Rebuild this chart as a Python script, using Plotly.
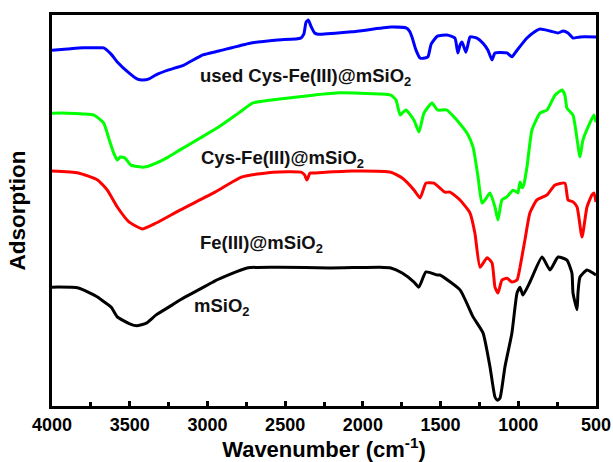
import plotly.graph_objects as go

# Wavenumber (cm-1) and absorbance (a.u., offset stacked)
wn_used = [4000, 3900, 3800, 3700, 3668, 3620, 3580, 3505, 3450, 3417, 3380, 3331, 3254, 3151, 3029, 2926,
           2726, 2550, 2400, 2380, 2365, 2350, 2335, 2310, 2288, 2070, 1819, 1722, 1700, 1684, 1658, 1632,
           1600, 1581, 1560, 1520, 1459, 1408, 1395, 1388, 1375, 1362, 1337, 1320, 1311, 1266, 1227, 1195,
           1169, 1150, 1073, 1041, 1008, 944, 906, 860, 796, 744, 712, 680, 648, 603, 500]
ab_used = [91.0, 91.3, 91.6, 91.6, 91.6, 90.0, 88.0, 85.2, 83.6, 83.4, 83.6, 84.7, 85.9, 87.2, 89.8, 90.8,
           92.8, 93.6, 94.1, 95.1, 98.2, 98.7, 97.2, 95.4, 95.1, 95.7, 96.9, 96.7, 95.9, 94.4, 91.0, 89.0,
           89.0, 89.3, 92.6, 94.6, 94.9, 94.1, 91.6, 90.3, 92.3, 93.1, 90.5, 93.1, 94.4, 94.1, 92.8, 91.0,
           88.5, 90.3, 90.3, 89.3, 91.0, 94.1, 95.4, 96.4, 95.9, 95.4, 95.9, 95.4, 94.1, 94.4, 94.4]

wn_cys = [4000, 3900, 3800, 3730, 3668, 3631, 3606, 3580, 3560, 3530, 3492, 3405, 3330, 3250, 3176, 3048,
          2926, 2800, 2707, 2578, 2321, 2147, 1890, 1820, 1787, 1760, 1740, 1722, 1671, 1639, 1607, 1555,
          1520, 1459, 1395, 1330, 1291, 1259, 1234, 1214, 1182, 1150, 1131, 1105, 1073, 1034, 1010, 1002,
          989, 975, 965, 944, 912, 860, 815, 764, 719, 700, 687, 648, 603, 584, 539, 513, 500]
ab_cys = [74.9, 74.9, 74.7, 74.4, 72.4, 68.0, 65.0, 62.9, 63.7, 63.4, 61.6, 61.1, 62.1, 63.7, 65.5, 68.5,
          71.4, 74.9, 77.5, 78.3, 79.5, 80.1, 79.8, 79.5, 78.3, 74.4, 75.2, 75.7, 73.1, 70.1, 74.9, 77.5,
          75.7, 75.7, 73.1, 69.8, 66.2, 58.6, 51.9, 52.7, 54.5, 50.9, 47.6, 52.7, 53.5, 55.2, 54.7, 54.5,
          57.3, 55.8, 56.5, 61.1, 70.6, 74.9, 75.7, 79.5, 80.8, 79.5, 76.2, 74.4, 63.7, 68.0, 72.4, 74.4, 72.6]

wn_fe = [4000, 3830, 3707, 3644, 3580, 3505, 3417, 3330, 3177, 2951, 2777, 2578, 2398, 2375, 2360, 2340,
         2324, 2070, 1820, 1747, 1670, 1632, 1594, 1543, 1472, 1439, 1375, 1311, 1279, 1246, 1201, 1169,
         1150, 1131, 1105, 1073, 1041, 1008, 989, 957, 925, 880, 815, 764, 700, 680, 648, 622, 590, 558,
         526, 513, 500]
ab_fe = [60.1, 59.6, 57.8, 55.2, 50.9, 47.1, 45.3, 46.8, 50.1, 54.7, 58.6, 59.8, 59.8, 59.1, 57.8, 59.6,
         59.6, 60.1, 59.8, 58.3, 55.2, 53.2, 57.0, 57.0, 54.7, 54.7, 52.7, 49.4, 44.2, 35.5, 37.9, 36.6,
         30.4, 28.9, 32.2, 32.7, 31.7, 32.2, 35.5, 42.5, 49.4, 52.7, 54.0, 56.5, 57.0, 52.7, 52.2, 50.9,
         43.2, 50.9, 54.0, 54.5, 52.2]

wn_si = [4000, 3830, 3707, 3681, 3620, 3580, 3500, 3455, 3393, 3330, 3228, 3177, 2964, 2951, 2745, 2533,
         2211, 1890, 1820, 1747, 1671, 1640, 1594, 1520, 1504, 1375, 1291, 1227, 1182, 1150, 1135, 1118,
         1086, 1041, 1008, 989, 970, 925, 847, 796, 744, 687, 655, 648, 622, 616, 603, 558, 520, 500]
ab_si = [30.4, 30.2, 27.9, 27.1, 25.3, 22.8, 21.0, 20.5, 21.2, 23.3, 25.8, 27.1, 31.7, 32.0, 35.3, 35.5,
         35.3, 35.5, 35.3, 34.0, 31.7, 30.4, 34.3, 33.5, 33.5, 29.7, 22.8, 18.7, 10.0, 2.3, 1.5, 2.0,
         10.0, 18.7, 28.9, 30.4, 28.4, 31.7, 38.1, 34.8, 38.1, 37.3, 34.0, 28.9, 24.6, 28.9, 33.0, 34.8,
         34.0, 33.5]

series = [
    ("used Cys-Fe(III)@mSiO<sub>2</sub>", wn_used, ab_used, "#0000FF"),
    ("Cys-Fe(III)@mSiO<sub>2</sub>", wn_cys, ab_cys, "#00FF00"),
    ("Fe(III)@mSiO<sub>2</sub>", wn_fe, ab_fe, "#FF0000"),
    ("mSiO<sub>2</sub>", wn_si, ab_si, "#000000"),
]

# label anchor positions (wavenumber, absorbance)
label_x = [3061, 3054, 3061, 3099]
label_y = [84.2, 63.2, 41.4, 25.3]

FONT = "Liberation Sans"

fig = go.Figure()
for (name, x, y, c) in series:
    fig.add_trace(go.Scatter(x=x, y=y, mode="lines", name=name,
                             line=dict(color=c, width=3, shape="spline", smoothing=0.5),
                             showlegend=False))

for (name, _, _, c), lx, ly in zip(series, label_x, label_y):
    fig.add_annotation(x=lx, y=ly, xref="x", yref="y", text=name, showarrow=False,
                       xanchor="left", yanchor="middle",
                       font=dict(family=FONT, size=18.5, color="#111", weight="bold"))

fig.update_layout(
    width=613, height=462,
    margin=dict(l=52, r=17, t=15, b=56),
    paper_bgcolor="white", plot_bgcolor="white",
    font=dict(family=FONT, color="black"),
)
fig.update_xaxes(
    range=[4000, 500], tickmode="array", automargin=False,
    tickvals=[4000, 3500, 3000, 2500, 2000, 1500, 1000, 500],
    ticks="inside", ticklen=5, tickwidth=3, tickcolor="black",
    minor=dict(tickvals=[3750, 3250, 2750, 2250, 1750, 1250, 750], ticks="inside",
               ticklen=4, tickwidth=3, tickcolor="black"),
    showline=True, linewidth=3, linecolor="black", mirror=True,
    showgrid=False, zeroline=False,
    tickfont=dict(family=FONT, size=18, weight="bold"),
    title=dict(text="Wavenumber (cm<sup>-1</sup>)", standoff=0,
               font=dict(family=FONT, size=22, weight="bold")),
)
fig.update_yaxes(
    range=[0, 100], showticklabels=False, ticks="", automargin=False,
    showline=True, linewidth=3, linecolor="black", mirror=True,
    showgrid=False, zeroline=False,
    title=dict(text="Adsorption", standoff=18,
               font=dict(family=FONT, size=22.5, weight="bold")),
)

fig.write_html("out.html", config={"displayModeBar": False},
               post_script="document.body.style.margin='0px';document.body.style.overflow='hidden';")
